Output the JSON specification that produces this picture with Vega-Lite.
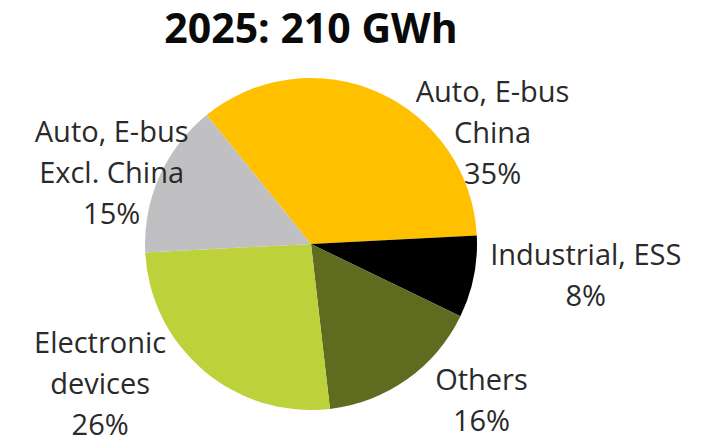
{
  "$schema": "https://vega.github.io/schema/vega-lite/v6.json",
  "autosize": {"type": "none"},
  "width": 400,
  "height": 400,
  "padding": {"left": 111, "top": 44, "right": 196, "bottom": 0},
  "background": "white",
  "title": {
    "text": "2025: 210 GWh",
    "font": "Open Sans",
    "fontSize": 41,
    "fontWeight": "bold",
    "color": "#0a0a0a",
    "anchor": "middle",
    "baseline": "top",
    "offset": 0,
    "dy": 8
  },
  "config": {"view": {"stroke": null}},
  "data": {
    "values": [
      {"idx": 1, "cat": "Auto, E-bus China", "share": 35, "label": "Auto, E-bus\nChina\n35%"},
      {"idx": 2, "cat": "Industrial, ESS", "share": 8, "label": "Industrial, ESS\n8%"},
      {"idx": 3, "cat": "Others", "share": 16, "label": "Others\n16%"},
      {"idx": 4, "cat": "Electronic devices", "share": 26, "label": "Electronic\ndevices\n26%"},
      {"idx": 5, "cat": "Auto, E-bus Excl. China", "share": 15, "label": "Auto, E-bus\nExcl. China\n15%"}
    ]
  },
  "encoding": {
    "theta": {"field": "share", "type": "quantitative", "stack": true, "scale": {"range": [-0.68, 5.603]}},
    "order": {"field": "idx", "type": "quantitative"}
  },
  "layer": [
    {
      "mark": {"type": "arc", "outerRadius": 166, "stroke": null},
      "encoding": {
        "color": {
          "field": "cat", "type": "nominal", "legend": null,
          "scale": {
            "domain": ["Auto, E-bus China", "Industrial, ESS", "Others", "Electronic devices", "Auto, E-bus Excl. China"],
            "range": ["#FFC000", "#000000", "#5F6B1F", "#BDD13A", "#C0BFC2"]
          }
        }
      }
    },
    {
      "mark": {
        "type": "text", "radius": 215, "font": "Open Sans", "fontSize": 29, "color": "#2a2a2a",
        "align": "center", "baseline": "alphabetic", "lineBreak": "\n", "lineHeight": 41,
        "dx": {"expr": "[94, 64, 46, -72, -3][datum.idx - 1]"},
        "dy": {"expr": "[54, -22, -29, -55, -14][datum.idx - 1]"}
      },
      "encoding": {"text": {"field": "label"}}
    }
  ]
}
